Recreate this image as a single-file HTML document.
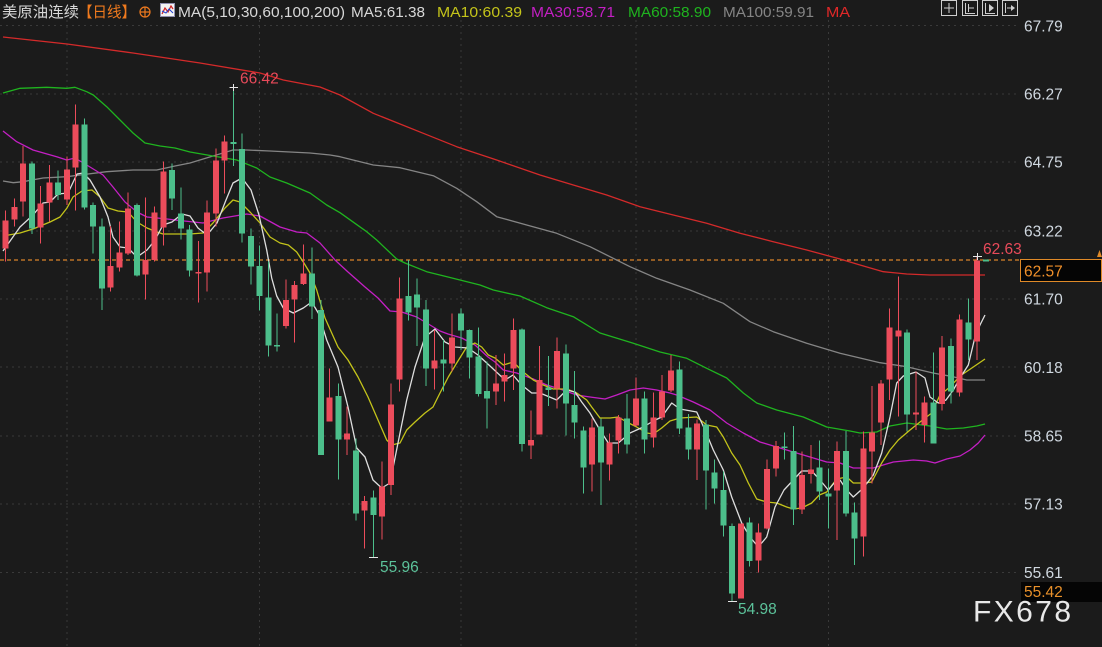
<!DOCTYPE html>
<html><head><meta charset="utf-8">
<style>
html,body{margin:0;padding:0;background:#1b1b1b;}
svg{display:block;}
text{font-family:"Liberation Sans","Noto Sans CJK SC",sans-serif;}
</style></head>
<body>
<svg width="1102" height="647" viewBox="0 0 1102 647" xmlns="http://www.w3.org/2000/svg">
<rect x="0" y="0" width="1102" height="647" fill="#1b1b1b"/>

<g stroke="#3a3a3a" stroke-width="1" stroke-dasharray="2,4" shape-rendering="crispEdges">
<line x1="0" y1="25.7" x2="1018" y2="25.7"/>
<line x1="0" y1="93.9" x2="1018" y2="93.9"/>
<line x1="0" y1="162.1" x2="1018" y2="162.1"/>
<line x1="0" y1="230.8" x2="1018" y2="230.8"/>
<line x1="0" y1="299" x2="1018" y2="299"/>
<line x1="0" y1="367.2" x2="1018" y2="367.2"/>
<line x1="0" y1="435.9" x2="1018" y2="435.9"/>
<line x1="0" y1="504.1" x2="1018" y2="504.1"/>
<line x1="0" y1="572.3" x2="1018" y2="572.3"/>
<line x1="67" y1="20" x2="67" y2="647"/>
<line x1="259.5" y1="20" x2="259.5" y2="647"/>
<line x1="460.9" y1="20" x2="460.9" y2="647"/>
<line x1="635.9" y1="20" x2="635.9" y2="647"/>
<line x1="828.4" y1="20" x2="828.4" y2="647"/>
</g>

<line x1="0" y1="260" x2="1020" y2="260" stroke="#d9822b" stroke-width="1.2" stroke-dasharray="4,3"/>

<g fill="none" stroke-width="1.3" stroke-linejoin="round">
<polyline stroke="#d42a2a" points="3,37 67,44 133,53 200,63 260,73 283.3,80 320,87 340,95 373.3,113.3 423.3,133.3 456.7,146.7 496.7,160 540,175 573.3,185 606.7,195 640,206.7 673.3,215 706.7,223.3 740,233.3 773.3,241.7 806.7,250 840,259 860,265 883.3,271.7 906.7,274 930,275 985,275"/>
<polyline stroke="#858585" points="3,181 13.3,182.7 23,181.7 43,178 66.7,176.7 80,175 106.7,171.7 133,170 156.7,170 175,166 190,163 213,156 233,150 246.7,150 270,151 310,153 330,155 340,156.7 373.3,165 400,167.7 433.3,175.7 456.7,188.3 476.7,201.7 496.7,216.7 526.7,225 556.7,233.3 590,246.7 630,266.7 656.7,278.3 690,290 723.3,303.3 750,321.7 773.3,331.7 806.7,343.3 840,353.3 860,358 880,362.7 906.7,366.7 933,373 953,376.7 966.7,380 985,380"/>
<polyline stroke="#1fb41f" points="3,93 20,88.3 46.7,87.3 66.7,88.3 75,87.3 86.7,91.7 93.3,95 106.7,106.7 120,120 133,133 145,143 160,146 175,148 190,152 213,156 236.7,160 256.7,168 270,177 286.7,183 310,193 326.7,205 340,212.7 366.7,231.7 376.7,240 396.7,259 405,263 426.7,271.7 448,277 460,280 480,285 493.3,290 520,296 546.7,307.7 573.3,316.7 600,333 633.3,343.3 660,352 686.7,358.3 706.7,368.3 726.7,378 743.3,393 756.7,403 776.7,410 803.3,417 826.7,427 850,431 860,433 876.7,432 890,426 906.7,423 930,426 946.7,429 963.3,428 976.7,426 985,424"/>
<polyline stroke="#c41fc4" points="3,131 16.7,141.7 33,150 56.7,156.7 66.7,160 75,158 90,167 103,175 113,187 125,202 137,212 147,217 167,219 175,220 203,223 223,218 246.7,214 260,216 280,227 296.7,232 306.7,233 320,243 335,260 348,272 365,287 378,298 390,311 401.7,312 416.7,317 425,322 440,331 448,334 461.7,338 475,345 488,357 495,362 503.3,370 516.7,373 533.3,379 546.7,385 560,389 576.7,395 590,397 605,399 616.7,395 630,390 643.3,388 656.7,390 670,393 676.7,395 693.3,402 710,410 726.7,423 743.3,433 760,442 776.7,447 793.3,452 810,457 826.7,462 840,463 853.3,468 873.3,468 893.3,462 913.3,460 926.7,461 935,463 946.7,459 960,456 970,450 978.3,443 985,435"/>
<polyline stroke="#c4c41a" points="3,236 20,233 33,229 50,222 60,217 67,208 73,197 82,191 92,190 100,197 108,208 118,211 128,212 137,222 147,228 157,232 163,234 177,234 190,234 203,233 213,223 225,208 233,200 240,202 250,212 260,223 270,237 280,243 288.3,245 296.7,252 303.3,262 310,273 316.7,290 325,318 338,347 348,360 358,377 368,397 378,420 386.7,440 391.7,445 400,443 406.7,430 415,422 425,413 433,407 440,393 448.3,377 456.7,363 466.7,347 475,343 481.7,347 488.3,355 495,358 503.3,365 513.3,362 523.3,372 533.3,380 543.3,385 553.3,389 566.7,389 576.7,393 586.7,400 591.7,407 600,418 610,418 618.3,417 626.7,422 636.7,427 646.7,433 653.3,434 661.7,428 670,421 680,418 696.7,417 706.7,425 716.7,427 723.3,437 731.7,453 740,465 748.3,483 756.7,499 766.7,502 776.7,503 786.7,507 793.3,509 801.7,508 811.7,503 819.3,495 826.7,492 836.7,479 846.7,477 853.3,483 863.3,483 871.7,482 881.7,463 890,450 898.3,440 910,430 920,422 931.7,413 940,395 950,387 960,376 973.3,367 985,359"/>
<polyline stroke="#dedede" points="3,251 20,227 33,215 43,203 50,202 58,194 68,193 77,174 83,173 90,180 100,197 108,217 113,237 120,247 128,248 137,257 147,250 155,240 163,225 172,222 182,214 190,216 198,228 207,235 217,223 226,200 233,183 242,178 251,190 259,215 266.7,250 271.7,278 276.7,296 283.3,308 293.3,313 303.3,308 311.7,302 318.3,313 326.7,340 338,367 348,407 356.7,448 365,457 373,480 381.7,488 390,483 398,443 406.7,400 415,367 425,337 435,329 445,342 455,347 468,348 478,355 490,366 505,380 513,375 521.7,385 531.7,393 540,393 556.7,400 566.7,390 575,392 581.7,402 590,413 600,430 608.3,443 618.3,443 630,433 643.3,427 653.3,421 661.7,417 671.7,403 680,409 696.7,412 705,430 713.3,450 723.3,470 731.7,497 741.7,523 750,537 758.3,547 766.7,537 775,507 784,490 793.3,480 801.7,471 811.7,471 820,480 828.3,490 836.7,480 840,480 846.7,490 853.3,497 863.3,488 873.3,475 881.7,453 890,417 896.7,383 903.3,376 916,372 925,378 930,397 938.3,403 946,400 953.3,390 960,378 968.3,365 975,337 980,325 985,315"/>
</g>

<path fill="none" stroke="#ec4c5b" stroke-width="1" shape-rendering="crispEdges" d="M5.7 210.7V261.7M14.5 198.3V226.7M23.2 146V216.7M40.7 186V243.3M49.5 165V221.7M67 156.7V205M75.7 104.3V210.7M110.7 226V291.7M119.5 221.7V271.7M128.2 192.3V255M145.7 197.3V299.3M154.5 206.7V261.7M163.3 161.7V245.7M198.3 241V302.7M207 200.7V291.7M215.8 148.3V226.7M224.5 135.7V193.3M285.8 279.3V328.3M294.5 281V342.7M303.3 244.3V285M329.6 368.3V421.7M347.1 406.7V455M364.6 496V548.3M382.1 461.7V539.3M390.8 383.3V495M399.6 277.3V391.7M434.6 330V389.3M452.1 313.3V371.7M495.9 355V405M504.6 353.3V401.7M513.4 318.3V390M530.9 410.7V459M539.6 346V434.3M557.1 337.3V408.3M592.1 418.3V491.7M609.6 433.3V480.7M618.4 415V453.3M635.9 377.3V426.7M653.4 392.3V447.3M662.1 375V420M670.9 355V392M697.2 419.3V480M740.9 523.3V598.3M758.4 523.3V572.7M767.2 459.3V529.3M775.9 441V476.7M802.2 451.7V514M810.9 445V483.3M837.2 441.7V540M863.4 431.7V556.7M872.2 386V483.3M880.9 380V445M889.7 308.3V400M898.4 276.7V416.7M915.9 371.7V430M924.7 396.7V442.7M942.2 336V410.7M959.7 314.3V396.7M977.2 256.7V360"/>
<g fill="#ec4c5b" shape-rendering="crispEdges">
<rect x="2.7" y="220.7" width="6" height="27.6"/>
<rect x="11.5" y="207" width="6" height="12.3"/>
<rect x="20.2" y="163.3" width="6" height="38.4"/>
<rect x="37.7" y="203.3" width="6" height="24"/>
<rect x="46.5" y="182.3" width="6" height="20.4"/>
<rect x="64" y="169.3" width="6" height="30"/>
<rect x="72.7" y="124.3" width="6" height="43"/>
<rect x="107.7" y="266" width="6" height="21.3"/>
<rect x="116.5" y="252.3" width="6" height="15"/>
<rect x="125.2" y="208.3" width="6" height="45"/>
<rect x="142.7" y="260" width="6" height="14.3"/>
<rect x="151.5" y="212.3" width="6" height="47.7"/>
<rect x="160.3" y="171.7" width="6" height="55.6"/>
<rect x="195.3" y="272" width="6" height="1.5"/>
<rect x="204" y="212.3" width="6" height="60"/>
<rect x="212.8" y="160.7" width="6" height="52.6"/>
<rect x="221.5" y="141.7" width="6" height="19"/>
<rect x="282.8" y="300" width="6" height="26"/>
<rect x="291.5" y="285" width="6" height="14.3"/>
<rect x="300.3" y="273.3" width="6" height="10.7"/>
<rect x="326.6" y="397.3" width="6" height="24.4"/>
<rect x="344.1" y="433.3" width="6" height="6"/>
<rect x="361.6" y="501" width="6" height="9.7"/>
<rect x="379.1" y="486.7" width="6" height="30"/>
<rect x="387.8" y="404.3" width="6" height="80.7"/>
<rect x="396.6" y="298.3" width="6" height="81"/>
<rect x="431.6" y="360.7" width="6" height="7.6"/>
<rect x="449.1" y="337.3" width="6" height="26"/>
<rect x="492.9" y="383.3" width="6" height="8.4"/>
<rect x="501.6" y="375" width="6" height="6.7"/>
<rect x="510.4" y="330" width="6" height="38.3"/>
<rect x="527.9" y="440" width="6" height="5.7"/>
<rect x="536.6" y="380" width="6" height="54.3"/>
<rect x="554.1" y="351" width="6" height="37.3"/>
<rect x="589.1" y="427.3" width="6" height="37"/>
<rect x="606.6" y="442.7" width="6" height="21.6"/>
<rect x="615.4" y="417.7" width="6" height="23"/>
<rect x="632.9" y="398.3" width="6" height="27.4"/>
<rect x="650.4" y="417.3" width="6" height="20"/>
<rect x="659.1" y="391.7" width="6" height="25.6"/>
<rect x="667.9" y="370.7" width="6" height="20"/>
<rect x="694.2" y="423.3" width="6" height="26"/>
<rect x="737.9" y="523.3" width="6" height="75"/>
<rect x="755.4" y="532.3" width="6" height="28.4"/>
<rect x="764.2" y="469" width="6" height="59.3"/>
<rect x="772.9" y="446" width="6" height="22.3"/>
<rect x="799.2" y="475" width="6" height="34.3"/>
<rect x="807.9" y="469.3" width="6" height="4.7"/>
<rect x="834.2" y="451" width="6" height="39.7"/>
<rect x="860.4" y="448.3" width="6" height="88.4"/>
<rect x="869.2" y="432.7" width="6" height="19"/>
<rect x="877.9" y="383.3" width="6" height="39"/>
<rect x="886.7" y="327.3" width="6" height="52"/>
<rect x="895.4" y="330.7" width="6" height="6"/>
<rect x="912.9" y="412.3" width="6" height="2"/>
<rect x="921.7" y="402.3" width="6" height="22.7"/>
<rect x="939.2" y="347.3" width="6" height="56.7"/>
<rect x="956.7" y="319.3" width="6" height="73.4"/>
<rect x="974.2" y="260.7" width="6" height="81"/>
</g>

<path fill="none" stroke="#4cbf8b" stroke-width="1" shape-rendering="crispEdges" d="M32 161.7V234M58.2 170.7V200M84.5 118.3V209.3M93.2 202.7V253.3M102 218.3V310M137 203.3V276.7M172 163.3V210M180.8 187.3V239.3M189.5 225V276.7M233.3 86V166M242 133.3V242.3M250.8 228.3V284.3M259.5 245.7V310.7M268.3 261.7V356.7M277 313.3V351.7M312.1 247.3V319M320.8 300V455M338.3 383.3V479.3M355.8 438.3V520.7M373.3 490.7V557M408.3 260V320.7M417.1 278.3V346M425.8 300V386M443.3 340V391.7M460.9 308.3V350M469.6 329.3V378.3M478.4 327.3V396.7M487.1 361.7V428.3M522.1 328.3V451.7M548.4 356V406M565.9 344.3V435.7M574.6 371V438.3M583.4 426.7V493.3M600.9 418.3V505M627.1 394V453.3M644.6 391.7V453.3M679.7 361.7V434M688.4 414V459.3M705.9 420V509.3M714.7 459.3V503.3M723.4 471.7V536.7M732.2 523.3V601.7M749.7 517.7V566.7M784.7 432.7V459.3M793.4 426V525M819.7 440.7V500M828.4 468.3V528.3M845.9 431V516.7M854.7 502.3V565M907.2 329.3V431.7M933.4 352.3V443.3M950.9 338.3V403.3M968.4 298.3V360"/>
<g fill="#4cbf8b" shape-rendering="crispEdges">
<rect x="29" y="163.3" width="6" height="65"/>
<rect x="55.2" y="182.3" width="6" height="12.7"/>
<rect x="81.5" y="124.3" width="6" height="83"/>
<rect x="90.2" y="205" width="6" height="21.7"/>
<rect x="99" y="226.7" width="6" height="61.6"/>
<rect x="134" y="205" width="6" height="70.7"/>
<rect x="169" y="170" width="6" height="28.3"/>
<rect x="177.8" y="213.3" width="6" height="15"/>
<rect x="186.5" y="229.3" width="6" height="41.4"/>
<rect x="230.3" y="142" width="6" height="2"/>
<rect x="239" y="149" width="6" height="84.3"/>
<rect x="247.8" y="236" width="6" height="30.7"/>
<rect x="256.5" y="266" width="6" height="30"/>
<rect x="265.3" y="297.3" width="6" height="48.4"/>
<rect x="274" y="345" width="6" height="1.7"/>
<rect x="309.1" y="273.3" width="6" height="33.4"/>
<rect x="317.8" y="310" width="6" height="145"/>
<rect x="335.3" y="396" width="6" height="43.3"/>
<rect x="352.8" y="450.7" width="6" height="62.6"/>
<rect x="370.3" y="497.3" width="6" height="17.7"/>
<rect x="405.3" y="296" width="6" height="16.7"/>
<rect x="414.1" y="294.3" width="6" height="13.4"/>
<rect x="422.8" y="309.3" width="6" height="59"/>
<rect x="440.3" y="359.3" width="6" height="4"/>
<rect x="457.9" y="313.3" width="6" height="17.4"/>
<rect x="466.6" y="330" width="6" height="27.3"/>
<rect x="475.4" y="356.7" width="6" height="37.3"/>
<rect x="484.1" y="391" width="6" height="7.3"/>
<rect x="519.1" y="329.3" width="6" height="114.7"/>
<rect x="545.4" y="387.7" width="6" height="2.3"/>
<rect x="562.9" y="353.3" width="6" height="50"/>
<rect x="571.6" y="405" width="6" height="17.7"/>
<rect x="580.4" y="430.7" width="6" height="36.6"/>
<rect x="597.9" y="426.7" width="6" height="35.6"/>
<rect x="624.1" y="418.3" width="6" height="26"/>
<rect x="641.6" y="398.3" width="6" height="41"/>
<rect x="676.7" y="369.3" width="6" height="59"/>
<rect x="685.4" y="427.3" width="6" height="22"/>
<rect x="702.9" y="424.3" width="6" height="46.4"/>
<rect x="711.7" y="472.3" width="6" height="16"/>
<rect x="720.4" y="490" width="6" height="35.7"/>
<rect x="729.2" y="526" width="6" height="67.3"/>
<rect x="746.7" y="522.3" width="6" height="38.7"/>
<rect x="781.7" y="446.7" width="6" height="1.5"/>
<rect x="790.4" y="451" width="6" height="58.3"/>
<rect x="816.7" y="467.7" width="6" height="24"/>
<rect x="825.4" y="493.3" width="6" height="3.4"/>
<rect x="842.9" y="451" width="6" height="62.3"/>
<rect x="851.7" y="512.3" width="6" height="26"/>
<rect x="904.2" y="332.3" width="6" height="82"/>
<rect x="930.4" y="402.3" width="6" height="41"/>
<rect x="947.9" y="346" width="6" height="45.7"/>
<rect x="965.4" y="322.3" width="6" height="17"/>
<rect x="983" y="259.3" width="6" height="2.4"/>
</g>

<g stroke="#e6e6e6" stroke-width="1" shape-rendering="crispEdges">
<line x1="229.5" y1="87.5" x2="238" y2="87.5"/>
<line x1="233.5" y1="84" x2="233.5" y2="91"/>
<line x1="369" y1="557.5" x2="378" y2="557.5"/>
<line x1="728" y1="601.5" x2="737" y2="601.5"/>
<line x1="973" y1="256.5" x2="982" y2="256.5"/>
<line x1="977.5" y1="253" x2="977.5" y2="260"/>
</g>
<g font-size="15.5">
<text x="240" y="83.5" fill="#e84a5a">66.42</text>
<text x="380" y="572" fill="#5cc29a">55.96</text>
<text x="738" y="614" fill="#5cc29a">54.98</text>
<text x="983" y="254" fill="#e84a5a">62.63</text>
</g>

<g font-size="15.5" fill="#d0d8e0">
<text x="1024" y="31.3">67.79</text>
<text x="1024" y="99.5">66.27</text>
<text x="1024" y="167.7">64.75</text>
<text x="1024" y="236.4">63.22</text>
<text x="1024" y="304.6">61.70</text>
<text x="1024" y="372.8">60.18</text>
<text x="1024" y="441.5">58.65</text>
<text x="1024" y="509.7">57.13</text>
<text x="1024" y="577.9">55.61</text>
</g>
<rect x="1020.5" y="259.5" width="81" height="22" fill="#050505" stroke="#e08a28" stroke-width="1"/>
<text x="1024" y="276.5" font-size="15.5" fill="#f0902a">62.57</text>
<path d="M1097 257 L1099.5 250 L1102 257 Z" fill="#e08a28"/>
<rect x="1021" y="582" width="81" height="20" fill="#050505"/>
<text x="1024" y="597" font-size="15.5" fill="#e8902a">55.42</text>

<text x="973" y="621.5" font-size="30" fill="#e8e8e8" textLength="98" lengthAdjust="spacing">FX678</text>

<g font-size="15">
<text x="2" y="17" fill="#d8d8d8" textLength="77" lengthAdjust="spacingAndGlyphs">美原油连续</text>
<text x="78" y="17" fill="#ef7a1e" textLength="58" lengthAdjust="spacingAndGlyphs">【日线】</text>
</g>
<g stroke="#ef7a1e" stroke-width="1.2" fill="none">
<circle cx="145" cy="12" r="5"/>
<line x1="140" y1="12" x2="150" y2="12"/>
<line x1="145" y1="7" x2="145" y2="17"/>
</g>
<rect x="160.5" y="3.5" width="14" height="13" fill="#f4f4f4" stroke="#9090b0" stroke-width="1"/>
<polyline points="162,14 165,8 168,12 171,6 173,9" fill="none" stroke="#d02020" stroke-width="1.2"/>
<polyline points="162,11 166,13 169,9 173,13" fill="none" stroke="#2040d0" stroke-width="1"/>
<g font-size="15">
<text x="178" y="17" fill="#d8d8d8" textLength="167" lengthAdjust="spacingAndGlyphs">MA(5,10,30,60,100,200)</text>
<text x="351" y="17" fill="#d8d8d8" textLength="74" lengthAdjust="spacingAndGlyphs">MA5:61.38</text>
<text x="437" y="17" fill="#c4c41a" textLength="85" lengthAdjust="spacingAndGlyphs">MA10:60.39</text>
<text x="531" y="17" fill="#c41fc4" textLength="84" lengthAdjust="spacingAndGlyphs">MA30:58.71</text>
<text x="628" y="17" fill="#1fb41f" textLength="83" lengthAdjust="spacingAndGlyphs">MA60:58.90</text>
<text x="723" y="17" fill="#858585" textLength="91" lengthAdjust="spacingAndGlyphs">MA100:59.91</text>
<text x="826" y="17" fill="#e02828" textLength="24" lengthAdjust="spacingAndGlyphs">MA</text>
</g>

<g stroke="#cfcfcf" stroke-width="1" fill="none" shape-rendering="crispEdges">
<rect x="941.5" y="0.5" width="15" height="15"/>
<rect x="962.5" y="0.5" width="15" height="15"/>
<rect x="982.5" y="0.5" width="15" height="15"/>
<rect x="1002.5" y="0.5" width="15" height="15"/>
<line x1="944" y1="8" x2="954" y2="8"/><line x1="949" y1="3" x2="949" y2="13"/>
<line x1="965.5" y1="3" x2="965.5" y2="13"/><line x1="965" y1="13.5" x2="975" y2="13.5"/><line x1="968.5" y1="4" x2="968.5" y2="12"/><line x1="969" y1="8" x2="974" y2="8"/>
<line x1="985.5" y1="3" x2="985.5" y2="13"/><line x1="985" y1="13.5" x2="995" y2="13.5"/>
<line x1="1005.5" y1="3" x2="1005.5" y2="13"/><line x1="1007" y1="8" x2="1014" y2="8"/>
</g>
<path d="M989 4 L994 8 L989 12 Z" fill="#cfcfcf"/>
<path d="M1011 5 L1015 8 L1011 11 Z" fill="#cfcfcf"/>
</svg>
</body></html>
